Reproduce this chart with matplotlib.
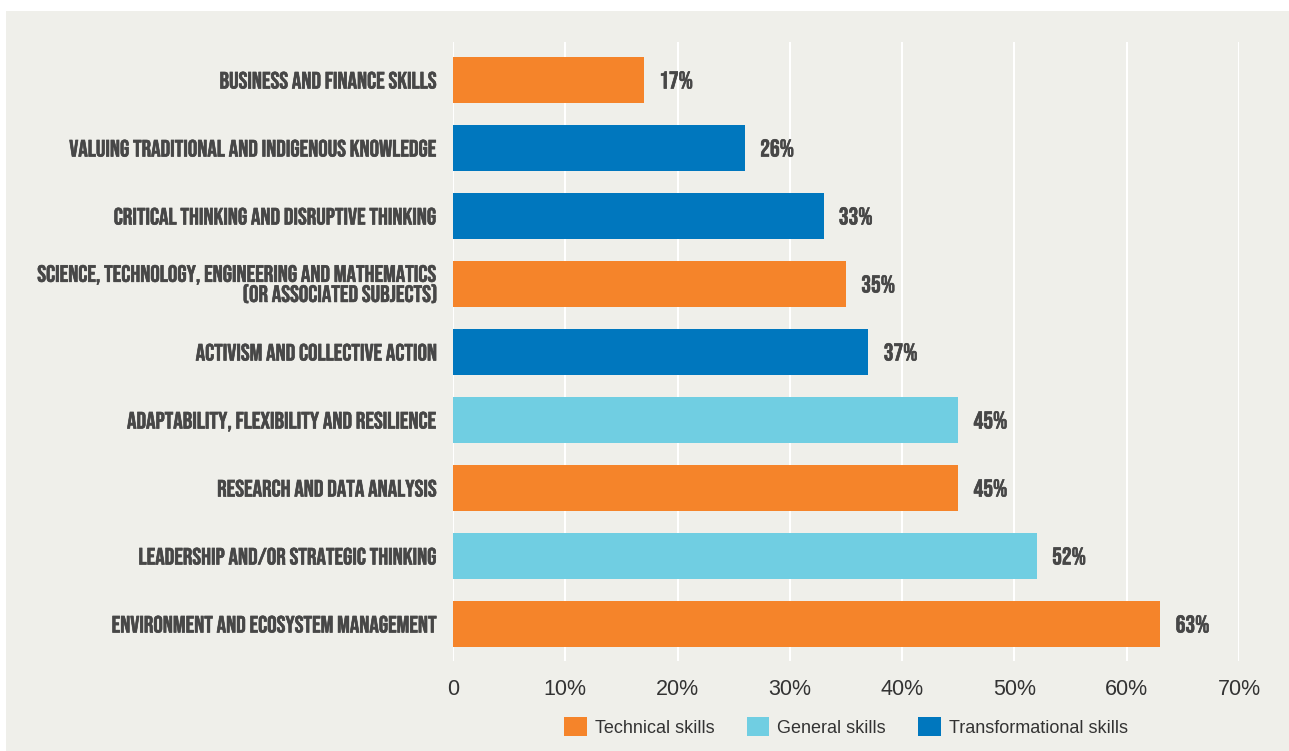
import matplotlib
matplotlib.use("Agg")
import matplotlib.pyplot as plt
from matplotlib.patches import Patch
import matplotlib.patheffects as pe

categories = [
    "BUSINESS AND FINANCE SKILLS",
    "VALUING TRADITIONAL AND INDIGENOUS KNOWLEDGE",
    "CRITICAL THINKING AND DISRUPTIVE THINKING",
    "SCIENCE, TECHNOLOGY, ENGINEERING AND MATHEMATICS\n(OR ASSOCIATED SUBJECTS)",
    "ACTIVISM AND COLLECTIVE ACTION",
    "ADAPTABILITY, FLEXIBILITY AND RESILIENCE",
    "RESEARCH AND DATA ANALYSIS",
    "LEADERSHIP AND/OR STRATEGIC THINKING",
    "ENVIRONMENT AND ECOSYSTEM MANAGEMENT",
]
values = [17, 26, 33, 35, 37, 45, 45, 52, 63]
skill_types = ["Technical", "Transformational", "Transformational", "Technical",
               "Transformational", "General", "Technical", "General", "Technical"]
legend_labels = ["Technical skills", "General skills", "Transformational skills"]
xticks = [0, 10, 20, 30, 40, 50, 60, 70]
xtick_labels = ["0", "10%", "20%", "30%", "40%", "50%", "60%", "70%"]

colors = {"Technical": "#F5842A", "General": "#70CEE2", "Transformational": "#0077BE"}
bg = "#EFEFEA"
text_col = "#474747"
cond_font = ["Bebas Neue", "Oswald", "Anton", "DejaVu Sans"]
bold_fx = [pe.Stroke(linewidth=0.45, foreground=text_col), pe.Normal()]

W, H = 1289, 751
fig = plt.figure(figsize=(W / 100, H / 100), dpi=100)
fig.patch.set_facecolor("white")
# gray panel
fig.patches.append(plt.Rectangle((6 / W, 0), 1 - 6 / W, (H - 11) / H,
                                 transform=fig.transFigure, facecolor=bg,
                                 edgecolor="none", zorder=-10))

left, right = 453 / W, 1239 / W
top, bottom = 42, 661
ax = fig.add_axes([left, (H - bottom) / H, right - left, (bottom - top) / H])
ax.set_facecolor("none")

ypos = list(range(len(categories)))
ax.barh(ypos, values, height=46 / 68,
        color=[colors[t] for t in skill_types], zorder=2)
ax.set_xlim(0, 70)
ax.set_ylim(8 + 37 / 68, -38 / 68)

for x in xticks:
    ax.axvline(x, color="white", lw=1.5, zorder=1)

for s in ax.spines.values():
    s.set_visible(False)
ax.tick_params(axis="both", length=0)
ax.set_xticks(xticks)
ax.set_xticklabels(xtick_labels, fontsize=15.5, family="Liberation Sans", color="#333333")
ax.tick_params(axis="x", pad=13)
ax.set_yticks(ypos)
ax.set_yticklabels(categories, fontsize=17, family=cond_font,
                   color=text_col, linespacing=0.93)
for t in ax.get_yticklabels():
    t.set_path_effects(bold_fx)
ax.tick_params(axis="y", pad=11.5)

for y, v in zip(ypos, values):
    ax.annotate(f"{v}%", xy=(v, y), xytext=(11, 0), textcoords="offset points",
                ha="left", va="center", fontsize=17.5, family=cond_font,
                color=text_col, path_effects=bold_fx)

handles = [Patch(facecolor=colors[t], edgecolor="none")
           for t in ["Technical", "General", "Transformational"]]
fig.legend(handles, legend_labels, loc="center", bbox_to_anchor=(846 / W, (H - 727) / H),
           ncol=3, frameon=False, prop={"family": "Liberation Sans", "size": 13},
           handlelength=1.27, handleheight=1.27, handletextpad=0.44, columnspacing=1.77,
           labelcolor="#333333")

fig.savefig("out.png", dpi=100, facecolor=fig.get_facecolor())
